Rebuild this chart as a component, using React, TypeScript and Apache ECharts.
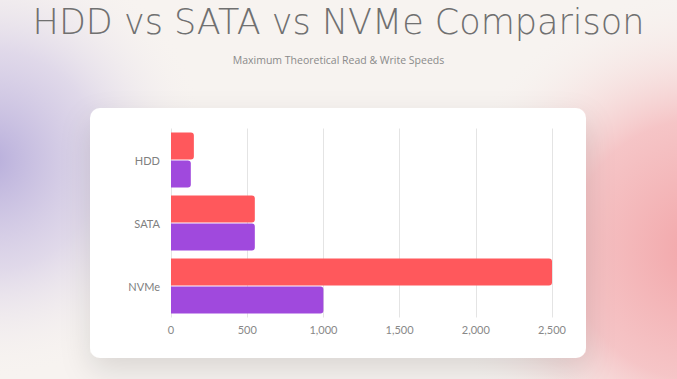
import React, { useEffect, useRef } from "react";
import * as echarts from "echarts";

const categories = ["HDD", "SATA", "NVMe"];
const readSpeeds = [150, 550, 2500];
const writeSpeeds = [130, 550, 1000];
const xTicks = [0, 500, 1000, 1500, 2000, 2500];

const W = 677;
const H = 379;

export default function App() {
  const ref = useRef<HTMLDivElement>(null);
  useEffect(() => {
    document.body.style.margin = "0";
    const chart = echarts.init(ref.current!, null, { renderer: "svg" });
    const font = "Lato, 'Open Sans', sans-serif";
    chart.setOption({
      animation: false,
      backgroundColor: "#f7f3f0",
      graphic: [
        {
          type: "circle",
          z: -10,
          silent: true,
          shape: { cx: -10, cy: 160, r: 220 },
          style: {
            fill: new echarts.graphic.RadialGradient(0.5, 0.5, 0.5, [
              { offset: 0, color: "rgba(180,170,218,0.95)" },
              { offset: 0.5, color: "rgba(205,195,228,0.55)" },
              { offset: 1, color: "rgba(247,243,240,0)" },
            ]),
          },
        },
        {
          type: "circle",
          z: -10,
          silent: true,
          shape: { cx: 700, cy: 250, r: 260 },
          style: {
            fill: new echarts.graphic.RadialGradient(0.5, 0.5, 0.5, [
              { offset: 0, color: "rgba(242,165,168,1)" },
              { offset: 0.5, color: "rgba(245,185,188,0.8)" },
              { offset: 1, color: "rgba(247,243,240,0)" },
            ]),
          },
        },
        {
          type: "rect",
          z: -5,
          silent: true,
          shape: { x: 90, y: 108, width: 496, height: 250, r: 10 },
          style: {
            fill: "#ffffff",
            shadowBlur: 30,
            shadowOffsetY: 12,
            shadowColor: "rgba(0,0,0,0.12)",
          },
        },
      ],
      title: [
        {
          text: "HDD vs SATA vs NVMe Comparison",
          left: "center",
          top: -1,
          textStyle: {
            fontFamily: "'DejaVu Sans', sans-serif",
            fontWeight: 200,
            fontSize: 35,
            color: "#707070",
          },
        },
        {
          text: "Maximum Theoretical Read & Write Speeds",
          left: "center",
          top: 49,
          textStyle: {
            fontFamily: "'Open Sans', sans-serif",
            fontWeight: 400,
            fontSize: 10.5,
            color: "#8a8a8a",
          },
        },
      ],
      grid: { left: 171, top: 128.5, width: 381, height: 189, containLabel: false },
      xAxis: {
        type: "value",
        min: xTicks[0],
        max: xTicks[xTicks.length - 1],
        interval: 500,
        axisLine: { show: false },
        axisTick: { show: false },
        splitLine: { show: true, lineStyle: { color: "#e4e4e4", width: 1 } },
        axisLabel: {
          margin: 6,
          fontSize: 11,
          color: "#888",
          fontFamily: font,
          formatter: (v: number) => v.toLocaleString("en-US"),
        },
      },
      yAxis: {
        type: "category",
        data: categories,
        inverse: true,
        axisLine: { show: false },
        axisTick: { show: false },
        axisLabel: { margin: 11, fontSize: 11, color: "#808080", fontFamily: font },
      },
      series: [
        {
          name: "Read",
          type: "bar",
          data: readSpeeds,
          barWidth: 27,
          barGap: "4%",
          itemStyle: { color: "#ff585c", borderRadius: [0, 3, 3, 0] },
        },
        {
          name: "Write",
          type: "bar",
          data: writeSpeeds,
          barWidth: 27,
          itemStyle: { color: "#a049dd", borderRadius: [0, 3, 3, 0] },
        },
      ],
    });
    return () => chart.dispose();
  }, []);
  return <div ref={ref} style={{ width: W, height: H }} />;
}
